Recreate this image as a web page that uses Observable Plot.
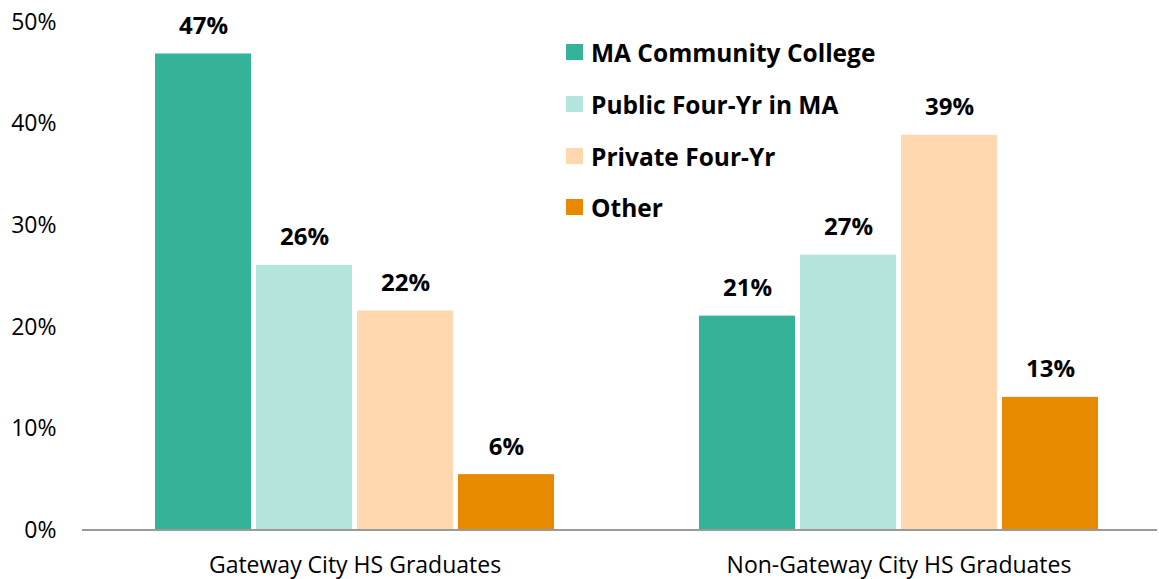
<!DOCTYPE html>
<html>
<head>
<meta charset="utf-8">
<script src="https://cdn.jsdelivr.net/npm/d3@7"></script>
<script src="https://cdn.jsdelivr.net/npm/@observablehq/plot@0.6"></script>
<style>
  html, body { margin: 0; padding: 0; background: #fff; }
  #wrap { position: relative; width: 1159px; height: 579px; font-family: "Open Sans", Lato, sans-serif; }
  #legend { position: absolute; left: 566px; top: 0; font-weight: 700; font-size: 24.5px; color: #000; }
  .li { position: absolute; white-space: nowrap; display: flex; align-items: center; height: 30px; }
  .sw { width: 17px; height: 16px; margin-right: 8px; flex: none; }
</style>
</head>
<body>
<div id="wrap"><div id="legend"></div></div>
<script>
const groups = ["Gateway City HS Graduates", "Non-Gateway City HS Graduates"];
const series = ["MA Community College", "Public Four-Yr in MA", "Private Four-Yr", "Other"];
const colors = ["#35B398", "#B3E5DD", "#FFD8B0", "#E88A00"];
const gatewayValues = [46.9, 26.1, 21.6, 5.5];
const nonGatewayValues = [21.1, 27.1, 38.9, 13.1];
const valueLabels = [["47%", "26%", "22%", "6%"], ["21%", "27%", "39%", "13%"]];
const yTicks = [0, 10, 20, 30, 40, 50];

const data = [];
[gatewayValues, nonGatewayValues].forEach((vals, gi) => {
  vals.forEach((v, si) => data.push({group: groups[gi], series: series[si], value: v, label: valueLabels[gi][si]}));
});

const plot = Plot.plot({
  width: 1159,
  height: 579,
  marginTop: 22,
  marginBottom: 49,
  marginLeft: 151,
  marginRight: 57,
  style: {fontFamily: "'Open Sans', Lato, sans-serif", color: "#000", background: "#fff"},
  fx: {domain: groups, paddingInner: 0.255, paddingOuter: 0, label: null},
  x: {domain: series, padding: 0.05, paddingOuter: 0.025, axis: null},
  y: {domain: [0, 50], axis: null},
  color: {domain: series, range: colors},
  marks: [
    Plot.axisY({ticks: yTicks, tickSize: 0, tickPadding: 96, tickFormat: d => d + "%", fontSize: 23, label: null}),
    Plot.axisFx({anchor: "bottom", tickSize: 0, tickPadding: 26, fontSize: 23, label: null}),
    Plot.barY(data, {fx: "group", x: "series", y: "value", fill: "series"}),
    Plot.text(data, {fx: "group", x: "series", y: "value", text: "label", dy: -20, lineAnchor: "bottom", fontWeight: "bold", fontSize: 24, fill: "#000"})
  ]
});
document.getElementById("wrap").prepend(plot);

// baseline axis line spanning the full plot width
const y0 = plot.scale("y").apply(0);
d3.select(plot).append("line")
  .attr("x1", 82).attr("x2", 1157)
  .attr("y1", y0).attr("y2", y0)
  .attr("stroke", "#9a9a9a").attr("stroke-width", 2);

// legend
const legendY = [52, 104, 156, 207];
const leg = d3.select("#legend");
series.forEach((s, i) => {
  const row = leg.append("div").attr("class", "li").style("top", (legendY[i] - 15) + "px");
  row.append("div").attr("class", "sw").style("background", colors[i]);
  row.append("span").text(s);
});
</script>
</body>
</html>
